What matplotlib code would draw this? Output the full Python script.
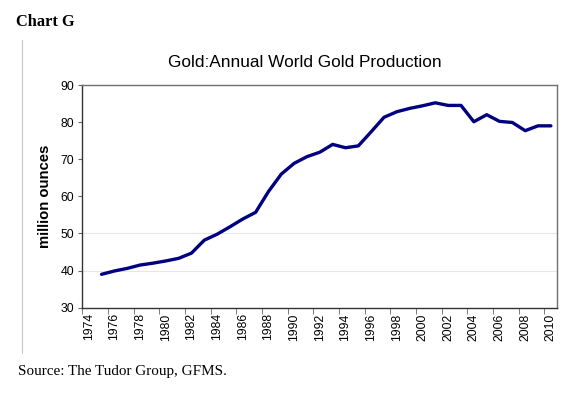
import numpy as np
import matplotlib.pyplot as plt
from matplotlib.lines import Line2D

years = list(range(1975, 2011))
production = [39.0, 39.9, 40.6, 41.5, 42.0, 42.6, 43.3, 44.7, 48.2, 49.8,
              51.8, 53.9, 55.7, 61.3, 66.0, 68.9, 70.7, 71.9, 74.0, 73.1,
              73.6, 77.4, 81.3, 82.8, 83.7, 84.4, 85.2, 84.5, 84.5, 80.1,
              82.0, 80.2, 79.9, 77.7, 79.0, 79.0]
label_years = list(range(1974, 2011, 2))
y_ticks = [30, 40, 50, 60, 70, 80, 90]
grid_levels = [40, 50]

fig = plt.figure(figsize=(5.81, 3.93), dpi=100)
ax = fig.add_axes([0.1417, 0.2170, 0.8175, 0.5667])

for g in grid_levels:
    ax.axhline(g, color='#e6e6e6', lw=0.8, zorder=0)

ax.plot(years, production, color='#000080', lw=2.4, solid_joinstyle='round',
        solid_capstyle='round')

ax.set_xlim(1973.5, 2010.5)
ax.set_ylim(30, 90)
ax.set_yticks(y_ticks)
ax.set_xticks(label_years)
ax.set_xticklabels([str(y) for y in label_years], rotation=90,
                   family='Liberation Sans', fontsize=8.8)
ax.tick_params(axis='x', length=0, pad=4)
# tick marks sit between categories, every second one
ax.set_xticks([y - 0.5 for y in label_years], minor=True)
ax.tick_params(axis='x', which='minor', length=4, color='#666666')
ax.tick_params(axis='y', length=3, color='#666666', pad=3)
for t in ax.get_yticklabels():
    t.set_family('Liberation Sans')
    t.set_fontsize(8.8)

for s in ax.spines.values():
    s.set_color('#707070')
    s.set_linewidth(1.0)
ax.spines['left'].set_color('#333333')
ax.spines['bottom'].set_color('#333333')

ax.set_ylabel('million ounces', family='Liberation Sans', fontweight='bold',
              fontsize=10.7, labelpad=6)

fig.text(304.5 / 581, 1 - 62.5 / 393, 'Gold:Annual World Gold Production',
         family='Liberation Sans', fontsize=12.4, ha='center', va='center')
fig.text(16 / 581, 1 - 22 / 393, 'Chart G', family='Liberation Serif',
         fontweight='bold', fontsize=11.8, va='center', ha='left')
fig.text(18 / 581, 1 - 371 / 393, 'Source: The Tudor Group, GFMS.',
         family='Liberation Serif', fontsize=10.9, va='center', ha='left')

fig.add_artist(Line2D([21.5 / 581, 21.5 / 581], [1 - 40 / 393, 1 - 353 / 393],
                      color='#c8c8c8', lw=0.8, transform=fig.transFigure))

fig.savefig('out.png', dpi=100, facecolor='white')
